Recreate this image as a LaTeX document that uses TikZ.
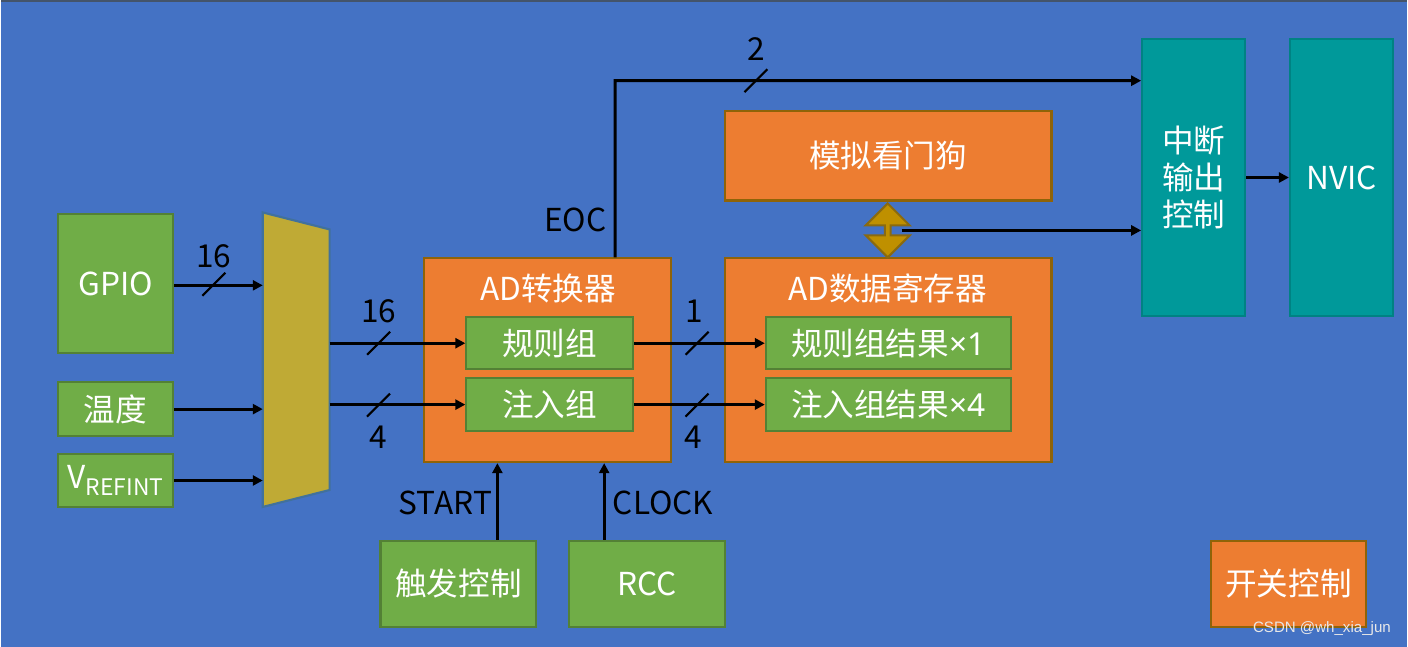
\documentclass[tikz,border=0pt]{standalone}
\usepackage{fontspec}
\setmainfont{Noto Sans CJK SC}
\newfontfamily\wmfont{Liberation Sans}
\newfontfamily\latinfont{Noto Sans}
\usetikzlibrary{arrows.meta,shapes.arrows}

\definecolor{bgblue}{HTML}{4472C4}
\definecolor{topline}{HTML}{44546A}
\definecolor{grfill}{HTML}{70AD47}
\definecolor{grline}{HTML}{538135}
\definecolor{orfill}{HTML}{ED7D31}
\definecolor{orline}{HTML}{8F6308}
\definecolor{tlfill}{HTML}{00999A}
\definecolor{muxfill}{HTML}{BFAA35}
\definecolor{muxline}{HTML}{41719C}
\definecolor{dogfill}{HTML}{BF9000}
\definecolor{dogline}{HTML}{8A6A10}

\begin{document}
\begin{tikzpicture}[x=0.01cm,y=-0.01cm,
  box/.style={draw,line width=0.6pt,inner sep=0pt,text=white,font=\fontsize{9}{10.5}\selectfont,align=center},
  gbox/.style={box,fill=grfill,draw=grline},
  obox/.style={box,fill=orfill,draw=orline},
  tbox/.style={box,fill=tlfill,draw=tlfill!85!black},
  sig/.style={line width=0.85pt,-{Triangle[length=0.1cm,width=0.1cm]}},
  lbl/.style={font=\fontsize{9}{10.5}\selectfont,text=black,inner sep=0pt},
  title/.style={lbl,text=white},
  busmark/.pic={\draw[line width=0.6pt] (-0.115cm,-0.115cm) -- (0.115cm,0.115cm);}]
% background and the thin rule on top
\fill[bgblue] (0,0) rectangle (1408,647);
\draw[topline,line width=0.7pt] (0,0.4) -- (1408,0.4);
\useasboundingbox (0,0) rectangle (1408,647);

% inputs
\node[gbox,minimum width=1.15cm,minimum height=1.39cm] (gpio) at (114.5,283.5) {GPIO};
\node[gbox,minimum width=1.15cm,minimum height=0.54cm] (temp) at (114.5,409) {温度};
\node[gbox,minimum width=1.15cm,minimum height=0.53cm] (vref) at (114.5,480.5) {V\raisebox{-0.45ex}{\fontsize{6.5}{7}\selectfont REFINT}};

% the selector
\draw[fill=muxfill,draw=muxline,line width=0.6pt] (262,212) -- (329,229) -- (329,490) -- (262,507) -- cycle;
\coordinate (muxl) at (262,0);
\coordinate (muxr) at (329,0);

% converter and its groups
\node[obox,minimum width=2.47cm,minimum height=2.04cm] (adc) at (547.5,360) {};
\node[title] (adct) at (548,288) {AD转换器};
\node[gbox,minimum width=1.67cm,minimum height=0.52cm] (reg) at (549.5,343) {规则组};
\node[gbox,minimum width=1.67cm,minimum height=0.53cm] (inj) at (549.5,404.5) {注入组};

% data registers
\node[obox,minimum width=3.27cm,minimum height=2.04cm] (dr) at (888.5,360) {};
\node[title] (drt) at (888,288) {AD数据寄存器};
\node[gbox,minimum width=2.45cm,minimum height=0.52cm] (regres) at (888.5,343) {规则组结果{\latinfont ×1}};
\node[gbox,minimum width=2.45cm,minimum height=0.53cm] (injres) at (888.5,404.5) {注入组结果{\latinfont ×4}};

% watchdog
\node[obox,minimum width=3.27cm,minimum height=0.90cm] (wdg) at (888.5,155) {模拟看门狗};

% interrupt path
\node[tbox,minimum width=1.03cm,minimum height=2.78cm] (it) at (1194.5,177) {中断\\输出\\控制};
\node[tbox,minimum width=1.03cm,minimum height=2.78cm] (nvic) at (1342.5,177) {NVIC};

% bottom blocks
\node[gbox,minimum width=1.56cm,minimum height=0.86cm] (trig) at (458,584) {触发控制};
\node[gbox,minimum width=1.56cm,minimum height=0.86cm] (rcc) at (647,584) {RCC};
\node[obox,minimum width=1.55cm,minimum height=0.86cm] (sw) at (1289.5,584) {开关控制};

% inputs into the selector
\draw[sig] (gpio.east |- 0,285) -- (muxl |- 0,285);
\pic at (213,284) {busmark};
\node[lbl] (n16a) at (213,256) {16};
\draw[sig] (temp.east) -- (temp.east -| muxl);
\draw[sig] (vref.east) -- (vref.east -| muxl);

% selector into the groups
\draw[sig] (reg.west -| muxr) -- (reg.west);
\draw[sig] (inj.west -| muxr) -- (inj.west);
\pic at (378,343) {busmark};
\pic at (378,405) {busmark};
\node[lbl] (n16b) at (378,311) {16};
\node[lbl] (n4a) at (378,437) {4};

% groups into the registers
\draw[sig] (reg.east) -- (regres.west);
\draw[sig] (inj.east) -- (injres.west);
\pic at (697,343) {busmark};
\pic at (697,405) {busmark};
\node[lbl] (n1) at (694,311) {1};
\node[lbl] (n4b) at (693,437) {4};

% end of conversion
\coordinate (eoc) at ([xshift=0.675cm]adc.north);
\coordinate (eocup) at (615,80);
\draw[sig] (eoc) -- (eocup) -- (eocup -| it.west);
\pic at (756,80) {busmark};
\node[lbl] (n2) at (756,48) {2};
\node[lbl] (eoct) at (575,219) {EOC};

% watchdog link
\node[double arrow,rotate=90,fill=dogfill,draw=dogline,line width=0.6pt,inner sep=0pt,
  minimum height=0.54cm,minimum width=0.44cm,double arrow head extend=0.07cm] (dog) at (888,230) {};
\coordinate (dogr) at ([xshift=0.14cm]dog.center);
\draw[sig] (dogr) -- (dogr -| it.west);
\draw[sig] (it.east) -- (nvic.west);

% trigger and clock
\coordinate (trigup) at ([xshift=0.39cm]trig.north);
\draw[sig] (trigup) -- (trigup |- adc.south);
\node[lbl] (startt) at (445,503) {START};
\coordinate (rccup) at ([xshift=-0.43cm]rcc.north);
\draw[sig] (rccup) -- (rccup |- adc.south);
\node[lbl] (clockt) at (663,503) {CLOCK};

\node[text=white!82!gray,inner sep=0pt,font=\wmfont\fontsize{4.3}{5}\selectfont] (wm) at (1323,629) {CSDN @wh\_xia\_jun};
\end{tikzpicture}
\end{document}
